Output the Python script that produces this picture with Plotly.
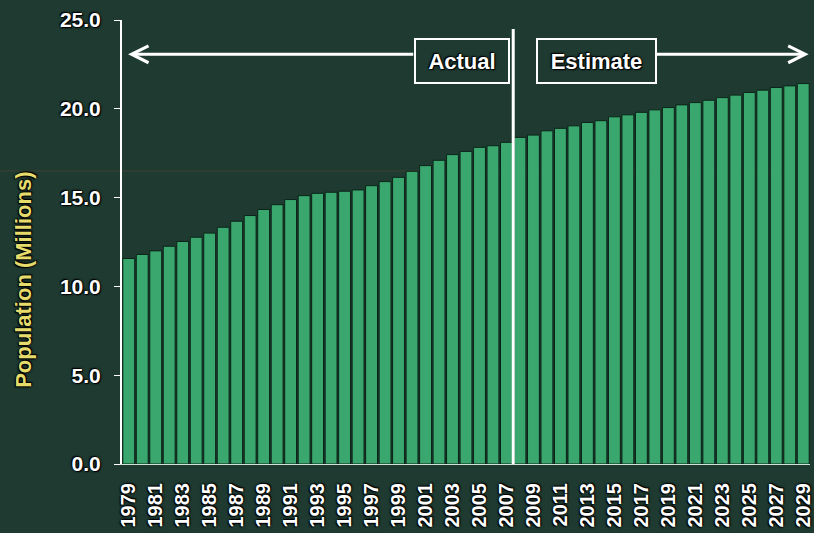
import plotly.graph_objects as go

years = list(range(1979, 2030))
population = [
    11.57, 11.80, 12.00, 12.26, 12.53, 12.77, 13.00, 13.33, 13.67, 13.99,
    14.33, 14.60, 14.89, 15.11, 15.24, 15.30, 15.36, 15.43, 15.67, 15.90,
    16.14, 16.48, 16.80, 17.10, 17.42, 17.60, 17.83, 17.92, 18.11, 18.39,
    18.52, 18.76, 18.90, 19.04, 19.23, 19.33, 19.55, 19.66, 19.80, 19.94,
    20.07, 20.22, 20.35, 20.48, 20.63, 20.77, 20.92, 21.05, 21.20, 21.29,
    21.42,
]
y_ticks = [0, 5, 10, 15, 20, 25]
divider_year = 2007.5
label_actual = "Actual"
label_estimate = "Estimate"
y_title = "Population (Millions)"

BG = "#1e3a31"
BAR = "#3aa86e"
FONT = "Liberation Sans, Arial, sans-serif"
SHADOW = "0px 0px 3px #000, 1px 1px 1px #000, -1px -1px 1px #000"

fig = go.Figure()
fig.add_trace(go.Bar(
    x=years, y=population,
    marker=dict(color=BAR, line=dict(color="#0b2418", width=1)),
    hoverinfo="x+y",
))

fig.update_layout(
    width=814, height=533,
    margin=dict(l=122, r=0, t=20, b=69),
    paper_bgcolor=BG, plot_bgcolor=BG,
    bargap=0.12,
    showlegend=False,
    font=dict(family=FONT, color="white"),
)

fig.update_xaxes(
    range=[1978.5, 2029.5],
    tickmode="array",
    tickvals=years[::2],
    ticktext=[str(v) for v in years[::2]],
    tickangle=-90,
    ticks="",
    ticklabelstandoff=10,
    ticklabeloverflow="allow",
    tickfont=dict(family=FONT, size=20, color="white", weight="bold", shadow=SHADOW),
    showgrid=False, zeroline=False,
    showline=True, linecolor="#cfe3d6", linewidth=1,
)

fig.update_yaxes(
    range=[0, 25],
    tickmode="array",
    tickvals=y_ticks,
    tickformat=".1f",
    ticks="outside", ticklen=6, tickcolor="white", tickwidth=1,
    ticklabelstandoff=9,
    tickfont=dict(family=FONT, size=21, color="white", weight="bold", shadow=SHADOW),
    showgrid=False, zeroline=False,
    showline=True, linecolor="white", linewidth=2,
)

# faint horizontal artifact line
fig.add_shape(type="line", xref="paper", yref="y", x0=-0.18, x1=1, y0=16.5, y1=16.5,
              line=dict(color="rgba(150,80,60,0.3)", width=1), layer="below")

# divider line
fig.add_shape(type="line", xref="x", yref="y", x0=divider_year, x1=divider_year,
              y0=0, y1=24.5, line=dict(color="white", width=3), layer="above")

arrow_y = 23.07
box_y = 22.67

# arrows
fig.add_annotation(x=1978.95, y=arrow_y, ax=2000.2, ay=arrow_y, axref="x", ayref="y",
                   xref="x", yref="y", text="", showarrow=True, arrowhead=5,
                   arrowsize=1.1, arrowwidth=3, arrowcolor="white", standoff=0)
fig.add_annotation(x=2029.4, y=arrow_y, ax=2017.9, ay=arrow_y, axref="x", ayref="y",
                   xref="x", yref="y", text="", showarrow=True, arrowhead=5,
                   arrowsize=1.1, arrowwidth=3, arrowcolor="white", standoff=0)

# labels
fig.add_annotation(x=2003.72, y=box_y, xref="x", yref="y", text=label_actual,
                   showarrow=False, width=90, height=40, borderpad=1,
                   bgcolor=BG, bordercolor="white", borderwidth=2,
                   font=dict(family=FONT, size=22, color="white", weight="bold", shadow=SHADOW))
fig.add_annotation(x=2013.64, y=box_y, xref="x", yref="y", text=label_estimate,
                   showarrow=False, width=115, height=40, borderpad=1,
                   bgcolor=BG, bordercolor="white", borderwidth=2,
                   font=dict(family=FONT, size=22, color="white", weight="bold", shadow=SHADOW))

# y-axis title
fig.add_annotation(x=-0.143, y=0.414, xref="paper", yref="paper", text=y_title,
                   textangle=-90, showarrow=False, xanchor="center", yanchor="middle",
                   font=dict(family=FONT, size=22, color="#e6dc6c", weight="bold", shadow=SHADOW))

fig.write_html("out.html")
